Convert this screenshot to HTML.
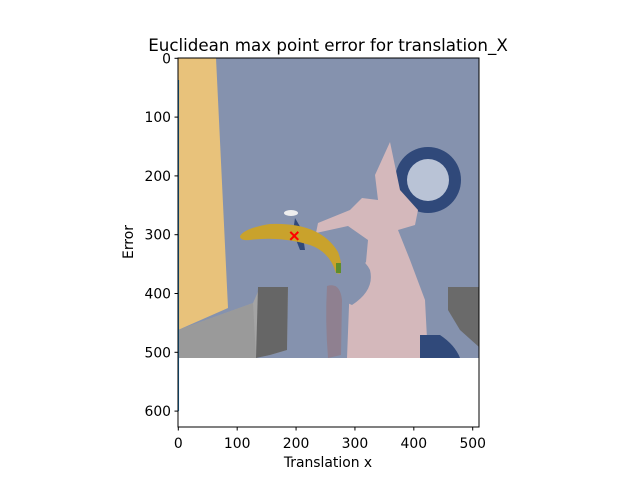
<!DOCTYPE html>
<html><head><meta charset="utf-8"><style>
body{margin:0;background:#fff;}
svg{display:block;font-family:"DejaVu Sans","Liberation Sans",sans-serif;}
</style></head><body>
<svg id="chart" width="640" height="480" viewBox="0 0 640 480">
<rect width="640" height="480" fill="#fff"/>
<text x="328" y="51" text-anchor="middle" font-size="16.7">Euclidean max point error for translation_X</text>
<defs><clipPath id="imgclip"><rect x="178" y="58" width="301" height="300"/></clipPath></defs>
<g clip-path="url(#imgclip)">
<rect x="178" y="58" width="301" height="300" fill="#8592ae"/>
<polygon points="178,58 216,58 228,308 178,330" fill="#e8c27b"/>
<circle cx="428" cy="180" r="33" fill="#30497a"/>
<circle cx="428" cy="180" r="21" fill="#b9c3d6"/>
<path d="M390,142 L375,175 L378,200 L362,198 L350,210 L318,223 L316,233 L348,226 L368,240 L366,262 L350,280 L347,358 L428,358 L425,300 L410,260 L398,230 L415,225 L418,210 L400,190 Z" fill="#d4b8bb"/>
<path d="M330,255 Q360,250 370,270 Q375,290 352,305 Q338,300 330,280 Z" fill="#8592ae"/>
<path d="M327,286 Q340,282 342,300 L341,355 L328,358 Q325,320 327,286 Z" fill="#8f8090"/>
<polygon points="178,330 253,303 260,287 288,287 287,350 270,355 255,358 178,358" fill="#a4a4a4"/>
<polygon points="258,287 288,287 287,350 270,355 256,358" fill="#666"/>
<polygon points="178,330 253,303 256,358 178,358" fill="#9a9a9a"/>
<polygon points="448,287 479,287 479,347 460,330 448,310" fill="#6a6a6a"/>
<path d="M420,335 L440,335 Q455,345 460,358 L420,358 Z" fill="#30497a"/>
<ellipse cx="291" cy="213" rx="7" ry="3" fill="#eee"/>
<path d="M295,218 L302,230 L305,250 L300,250 L293,232 Z" fill="#30497a"/>
<path d="M240,236 Q245,228 270,224 Q320,222 338,252 Q343,265 340,274 L336,273 Q330,252 310,245 Q280,236 250,240 Q240,241 240,236 Z" fill="#c9a22c"/>
<rect x="336" y="263" width="5" height="10" fill="#5f8d2c"/>
</g>
<g id="marks"></g>
<rect x="178" y="58" width="301" height="369" fill="none" stroke="#000" stroke-width="1"/>
<g id="xticks"></g><g id="yticks"></g>
<text x="328" y="467" text-anchor="middle" font-size="13.9">Translation x</text>
<text x="133" y="242" text-anchor="middle" font-size="13.9" transform="rotate(-90 133 242)">Error</text>
</svg>
<script>
const xTicks=[0,100,200,300,400,500];
const yTicks=[0,100,200,300,400,500,600];
const lineX=[0,0];
const lineY=[37,600];
const markerX=[197];
const markerY=[302];
const NS="http://www.w3.org/2000/svg";
function sx(v){return 178.3+v*0.5888;}
function sy(v){return 58.3+v*0.588;}
function mk(t,a,p){const e=document.createElementNS(NS,t);for(const k in a)e.setAttribute(k,a[k]);p.appendChild(e);return e;}
const xg=document.getElementById('xticks'),yg=document.getElementById('yticks'),mg=document.getElementById('marks');
xTicks.forEach(v=>{const x=sx(v);
const l=mk('line',{x1:x,x2:x,y1:427,y2:430.5,stroke:'#000'},xg);


const t=mk('text',{x:x,y:448,'text-anchor':'middle','font-size':'13.9'},xg);t.textContent=v;

});
yTicks.forEach(v=>{const y=sy(v);
const l=mk('line',{x1:174.5,x2:178,y1:y,y2:y,stroke:'#000'},yg);


const t=mk('text',{x:171,y:y+5,'text-anchor':'end','font-size':'13.9'},yg);t.textContent=v;

});
const ln=mk('polyline',{points:lineX.map((x,i)=>sx(x)+','+sy(lineY[i])).join(' '),fill:'none',stroke:'#1f77b4','stroke-width':1.5},mg);


markerX.forEach((x,i)=>{const cx=sx(x),cy=sy(markerY[i]);
const g=mk('path',{d:`M${cx-4},${cy-4}L${cx+4},${cy+4}M${cx-4},${cy+4}L${cx+4},${cy-4}`,stroke:'#ff0000','stroke-width':2},mg);

});
</script>
</body></html>
